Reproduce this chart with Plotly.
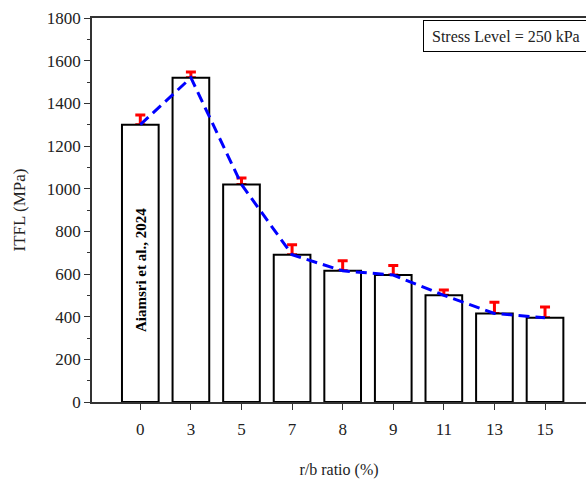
import plotly.graph_objects as go

# r/b ratio categories and measured ITFL (MPa) with upper error
ratio_labels = ["0", "3", "5", "7", "8", "9", "11", "13", "15"]
itfl_mpa = [1300, 1520, 1020, 690, 615, 595, 500, 415, 395]
itfl_err = [45, 27, 30, 47, 47, 45, 25, 52, 50]

SERIF = "Liberation Serif, Times New Roman, serif"
AXIS_COLOR = "#333333"
TEXT_COLOR = "#222222"

fig = go.Figure()

# error bars carried by a transparent bar trace drawn underneath,
# so the outlined bars hide the lower end of each error bar
fig.add_trace(go.Bar(
    x=ratio_labels, y=itfl_mpa, width=0.725,
    marker=dict(color="rgba(0,0,0,0)", line=dict(width=0)),
    error_y=dict(type="data", symmetric=False, array=itfl_err,
                 arrayminus=[0] * len(itfl_err),
                 color="#ff0000", thickness=3, width=5),
    hoverinfo="skip", showlegend=False,
))

# white bars with black outline
fig.add_trace(go.Bar(
    x=ratio_labels, y=itfl_mpa, width=0.725,
    marker=dict(color="white", line=dict(color="black", width=2)),
    showlegend=False,
))

# dashed trend line through the bar tops
fig.add_trace(go.Scatter(
    x=ratio_labels, y=itfl_mpa, mode="lines",
    line=dict(color="#0000ff", width=3, dash="11px,6px"),
    showlegend=False,
))

fig.update_layout(
    width=586, height=479,
    margin=dict(l=92, r=0, t=18, b=77),
    paper_bgcolor="white", plot_bgcolor="white",
    barmode="overlay",
    font=dict(family=SERIF, size=17, color=TEXT_COLOR),
    xaxis=dict(
        type="category",
        range=[-0.955, 8.81],
        showline=True, linecolor=AXIS_COLOR, linewidth=1.5,
        mirror=True,
        ticks="outside", ticklen=6, tickwidth=1, tickcolor=AXIS_COLOR,
        ticklabelstandoff=5,
        showgrid=False, zeroline=False,
        tickfont=dict(family=SERIF, size=17, color=TEXT_COLOR),
        title=dict(text="r/b ratio (%)", standoff=26,
                   font=dict(family=SERIF, size=16, color=TEXT_COLOR)),
    ),
    yaxis=dict(
        range=[0, 1800],
        dtick=200,
        showline=True, linecolor=AXIS_COLOR, linewidth=1.5,
        ticks="outside", ticklen=6, tickwidth=1, tickcolor=AXIS_COLOR,
        minor=dict(dtick=100, ticks="outside", ticklen=3,
                   tickcolor=AXIS_COLOR, tickwidth=1),
        showgrid=False, zeroline=False,
        tickfont=dict(family=SERIF, size=17, color=TEXT_COLOR),
        title=dict(text="ITFL (MPa)", standoff=17,
                   font=dict(family=SERIF, size=17, color=TEXT_COLOR)),
    ),
    annotations=[
        dict(
            text="Stress Level = 250 kPa",
            xref="paper", yref="paper", x=0.6694, y=0.9948,
            xanchor="left", yanchor="top",
            width=165, height=14, align="left", valign="middle",
            borderpad=8, bordercolor="black", borderwidth=1,
            bgcolor="white", showarrow=False,
            font=dict(family=SERIF, size=16, color=TEXT_COLOR),
        ),
        dict(
            text="<b>Aiamsri et al., 2024</b>",
            xref="x", yref="y", x="0", y=620,
            textangle=-90, showarrow=False,
            font=dict(family=SERIF, size=15, color="black"),
        ),
    ],
)

fig.write_html("out.html")
